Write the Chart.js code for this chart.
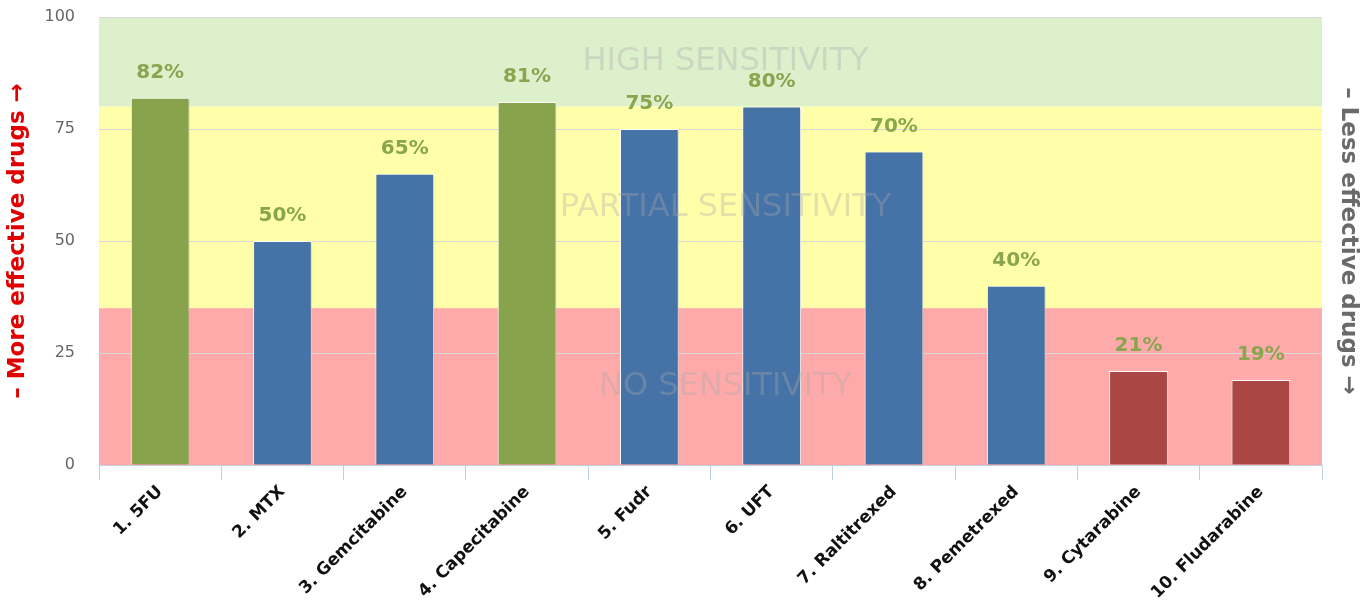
<!DOCTYPE html>
<html>
<head>
<meta charset="utf-8">
<title>Drug sensitivity</title>
<script src="https://cdn.jsdelivr.net/npm/chart.js@4.4.1/dist/chart.umd.min.js"></script>
<style>
  html, body { margin: 0; padding: 0; background: #fff; }
  #wrap { width: 1371px; height: 600px; }
</style>
</head>
<body>
<div id="wrap"><canvas id="chart" width="1371" height="600"></canvas></div>
<script>
const drugs = ['1. 5FU', '2. MTX', '3. Gemcitabine', '4. Capecitabine', '5. Fudr',
  '6. UFT', '7. Raltitrexed', '8. Pemetrexed', '9. Cytarabine', '10. Fludarabine']
const sensitivity = [82, 50, 65, 81, 75, 80, 70, 40, 21, 19]
const barColors = ['#87A34B', '#4572A7', '#4572A7', '#87A34B', '#4572A7',
  '#4572A7', '#4572A7', '#4572A7', '#AA4643', '#AA4643']
const yTicks = [0, 25, 50, 75, 100]

// sensitivity zones: [from, to, fill, label]
const zoneFrom = [80, 35, 0]
const zoneTo = [100, 80, 35]
const zoneFill = ['#DDF0CC', '#FFFFAA', '#FFAAAA']
const zoneLabel = ['HIGH SENSITIVITY', 'PARTIAL SENSITIVITY', 'NO SENSITIVITY']

const FONT = "'DejaVu Sans', Verdana, sans-serif"

// fixed axis sizes, no extra label padding
const fixSize = (w, h) => (scale) => {
  if (w != null) scale.width = w
  if (h != null) scale.height = h
  scale.paddingTop = 0
  scale.paddingBottom = 0
  scale.paddingLeft = 0
  scale.paddingRight = 0
}

const zonesPlugin = {
  id: 'zones',
  beforeDraw(chart) {
    const { ctx, chartArea: a, scales: { y } } = chart
    ctx.save()
    zoneFrom.forEach((from, i) => {
      const top = y.getPixelForValue(zoneTo[i])
      const bottom = y.getPixelForValue(from)
      ctx.fillStyle = zoneFill[i]
      ctx.fillRect(a.left, top, a.right - a.left, bottom - top)
    })
    ctx.restore()
  },
  // zone captions sit semi-transparent over the bars
  afterDatasetsDraw(chart) {
    const { ctx, chartArea: a, scales: { y } } = chart
    ctx.save()
    ctx.font = `32px ${FONT}`
    ctx.fillStyle = 'rgba(170, 170, 170, 0.35)'
    ctx.textAlign = 'center'
    ctx.textBaseline = 'middle'
    const cx = (a.left + a.right) / 2 + 15
    zoneLabel.forEach((text, i) => {
      ctx.fillText(text, cx, y.getPixelForValue((zoneFrom[i] + zoneTo[i]) / 2))
    })
    ctx.restore()
  },
}

const barShadow = {
  id: 'barShadow',
  beforeDatasetDraw(chart) {
    const ctx = chart.ctx
    ctx.save()
    ctx.shadowColor = 'rgba(0, 0, 0, 0.18)'
    ctx.shadowOffsetX = 1
    ctx.shadowOffsetY = 1
    ctx.shadowBlur = 2
  },
  afterDatasetDraw(chart) {
    chart.ctx.restore()
  },
}

const valueLabels = {
  id: 'valueLabels',
  afterDatasetsDraw(chart) {
    const { ctx } = chart
    const meta = chart.getDatasetMeta(0)
    ctx.save()
    ctx.font = `bold 20px ${FONT}`
    ctx.fillStyle = '#89A54E'
    ctx.textAlign = 'center'
    ctx.textBaseline = 'middle'
    meta.data.forEach((bar, i) => {
      ctx.fillText(sensitivity[i] + '%', bar.x, bar.y - 25)
    })
    ctx.restore()
  },
}

new Chart(document.getElementById('chart'), {
  type: 'bar',
  data: {
    labels: drugs,
    datasets: [{
      data: sensitivity,
      backgroundColor: barColors,
      borderColor: '#ffffff',
      borderWidth: 1,
      borderSkipped: 'bottom',
      barPercentage: 0.48,
      categoryPercentage: 1,
    }],
  },
  options: {
    responsive: false,
    animation: false,
    layout: { padding: { top: 17, left: 0, right: 0, bottom: 0 } },
    plugins: {
      legend: { display: false },
      tooltip: { enabled: false },
    },
    scales: {
      x: {
        grid: {
          offset: true,
          drawOnChartArea: false,
          drawTicks: true,
          tickLength: 15,
          color: '#C0D0E0',
        },
        border: { color: '#C0D0E0' },
        ticks: {
          color: '#111',
          font: { family: FONT, size: 17, weight: 'bold' },
          minRotation: 45,
          maxRotation: 45,
          padding: 2,
        },
        afterFit: fixSize(null, 135),
      },
      y: {
        min: 0,
        max: 100,
        afterBuildTicks(scale) { scale.ticks = yTicks.map(v => ({ value: v })) },
        grid: { color: '#D8D8D8', drawTicks: false },
        border: { display: false },
        ticks: {
          color: '#666',
          font: { family: FONT, size: 16 },
          padding: 24,
        },
        title: {
          display: true,
          text: '– More effective drugs →',
          color: '#E00000',
          font: { family: FONT, size: 23, weight: 'bold' },
          padding: { top: 4, bottom: 0 },
        },
        afterFit: fixSize(99, null),
      },
      yRight: {
        position: 'right',
        min: 0,
        max: 100,
        grid: { display: false, drawTicks: false },
        border: { display: false },
        ticks: { display: false },
        title: {
          display: true,
          text: '– Less effective drugs →',
          color: '#6A6A6A',
          font: { family: FONT, size: 23, weight: 'bold' },
          padding: { top: 9, bottom: 0 },
        },
        afterFit: fixSize(49, null),
      },
    },
  },
  plugins: [zonesPlugin, barShadow, valueLabels],
})
</script>
</body>
</html>
